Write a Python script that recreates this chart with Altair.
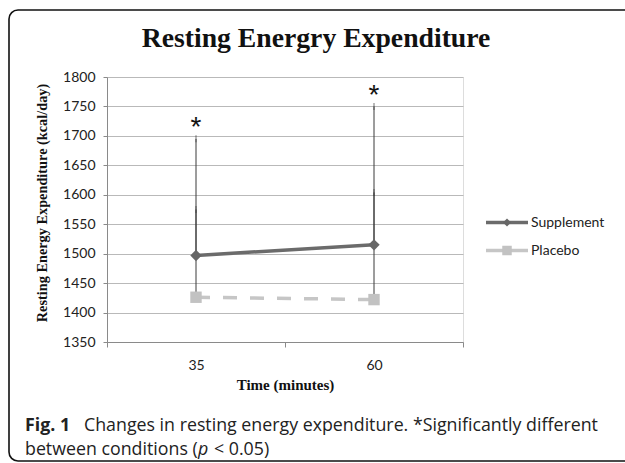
import altair as alt
import pandas as pd

# ---- data ----
times = ["35", "60"]
series = ["Supplement", "Placebo"]
supp_mean = [1497, 1515]
supp_upper = [1695, 1750]
plac_mean = [1426, 1422]
plac_upper = [1575, 1604]
star_y = [1700, 1754]          # '*' significance markers
y_ticks = [1350, 1400, 1450, 1500, 1550, 1600, 1650, 1700, 1750, 1800]

colors = {"Supplement": "#6b6b6b", "Placebo": "#c6c6c6"}
shapes = {"Supplement": "diamond", "Placebo": "square"}

idx = list(range(len(times)))
df = pd.DataFrame({
    "idx": idx * 2,
    "time": times * 2,
    "series": [series[0]] * len(times) + [series[1]] * len(times),
    "mean": supp_mean + plac_mean,
    "upper": supp_upper + plac_upper,
})
stars = pd.DataFrame({"idx": idx, "y": star_y, "t": ["*"] * len(idx)})

W, H = 356, 265
PL, PT = 107, 77

label_expr = " : ".join(f"datum.value == {i} ? '{t}'" for i, t in enumerate(times)) + " : ''"

xenc = alt.X(
    "idx:Q",
    scale=alt.Scale(domain=[-0.5, len(times) - 0.5], nice=False, zero=False),
    axis=alt.Axis(
        values=[-0.5, 0, 0.5, 1, 1.5],
        tickCount=10,
        labelExpr=label_expr,
        labelOverlap=False,
        labelFlush=False,
        grid=False,
        tickSize=5,
        tickColor="#8a8a8a",
        tickOpacity={"condition": {"test": "datum.value % 1 == 0", "value": 0}, "value": 1},
        domainColor="#8a8a8a",
        labelFont="Lato",
        labelFontSize=14,
        labelColor="#222222",
        labelPadding=11,
        title="Time (minutes)",
        titleFont="Liberation Serif",
        titleFontSize=15,
        titleFontWeight="bold",
        titleColor="#111111",
        titleBaseline="middle",
        titleY=42,
    ),
)
yscale = alt.Scale(domain=[1350, 1800], nice=False, zero=False)
yenc = alt.Y(
    "mean:Q",
    scale=yscale,
    axis=alt.Axis(
        values=y_ticks,
        tickCount=len(y_ticks) * 2,
        format="d",
        labelOverlap=False,
        grid=True,
        gridColor="#b9b9b9",
        gridWidth=1,
        tickSize=4,
        tickColor="#8a8a8a",
        domainColor="#8a8a8a",
        labelFont="Lato",
        labelFontSize=14,
        labelColor="#222222",
        labelPadding=8,
        title="Resting Energy Expenditure (kcal/day)",
        titleFont="Liberation Serif",
        titleFontSize=14.3,
        titleFontWeight="bold",
        titleColor="#111111",
        titleAngle=-90,
        titleAlign="center",
        titleBaseline="middle",
        titleX=42 - PL,
        titleY=H / 2 - 7,
    ),
)

base = alt.Chart(df)

err = base.mark_rule(color="#3a3a3a", strokeWidth=1).encode(
    x=xenc, y=yenc, y2="upper:Q")
caps = base.mark_tick(color="#3a3a3a", thickness=1, size=7, orient="vertical").encode(
    x="idx:Q", y=alt.Y("upper:Q", scale=yscale))

supp_line = base.transform_filter(alt.datum.series == "Supplement").mark_line(
    color=colors["Supplement"], strokeWidth=3.5).encode(x="idx:Q", y="mean:Q")
plac_line = base.transform_filter(alt.datum.series == "Placebo").mark_line(
    color=colors["Placebo"], strokeWidth=3.5, strokeDash=[14, 13]).encode(x="idx:Q", y="mean:Q")
supp_pts = base.transform_filter(alt.datum.series == "Supplement").mark_point(
    shape="diamond", filled=True, size=130, color="#666666", opacity=1).encode(x="idx:Q", y="mean:Q")
plac_pts = base.transform_filter(alt.datum.series == "Placebo").mark_point(
    shape="square", filled=True, size=130, color="#c2c2c2", opacity=1).encode(x="idx:Q", y="mean:Q")

star_txt = alt.Chart(stars).mark_text(
    font="Liberation Sans", fontSize=28, baseline="alphabetic", align="center", color="#111111"
).encode(x="idx:Q", y=alt.Y("y:Q", scale=yscale), text="t:N")

one = pd.DataFrame({"a": [0]})

# legend (manual, Excel style)
legend_layers = []
leg_y = {"Supplement": 222.5 - PT, "Placebo": 250.5 - PT}
leg_size = {"Supplement": 64, "Placebo": 90}
for s in series:
    legend_layers.append(alt.Chart(one).mark_rule(
        color=colors[s], strokeWidth=3.5).encode(
        x=alt.value(486 - PL), x2=alt.value(528 - PL), y=alt.value(leg_y[s])))
    legend_layers.append(alt.Chart(one).mark_point(
        shape=shapes[s], filled=True, size=leg_size[s], opacity=1,
        color="#666666" if s == "Supplement" else "#c2c2c2").encode(
        x=alt.value(507 - PL), y=alt.value(leg_y[s])))
    legend_layers.append(alt.Chart(one).mark_text(
        text=s, font="Lato", fontSize=14, align="left", baseline="middle", color="#222222").encode(
        x=alt.value(531 - PL), y=alt.value(leg_y[s])))

title = alt.Chart(one).mark_text(
    text="Resting Energry Expenditure", font="Liberation Serif", fontSize=27.7,
    fontWeight="bold", align="center", baseline="alphabetic", color="#111111").encode(
    x=alt.value(316 - PL), y=alt.value(47 - PT))

border = alt.Chart(one).mark_rect(
    fill=None, stroke="#111111", strokeWidth=1.6, cornerRadius=9, filled=False).encode(
    x=alt.value(9 - PL), y=alt.value(10 - PT), x2=alt.value(650 - PL), y2=alt.value(461 - PT))

cap_font = "Open Sans"
cap_size = 17.8
cap_col = "#222222"
y1, y2 = 431, 455
cap1a = alt.Chart(one).mark_text(
    text="Fig. 1", font=cap_font, fontSize=cap_size, fontWeight="bold", align="left",
    baseline="alphabetic", color=cap_col).encode(x=alt.value(25 - PL), y=alt.value(y1 - PT))
cap1b = alt.Chart(one).mark_text(
    text="Changes in resting energy expenditure. *Significantly different", font=cap_font,
    fontSize=cap_size, align="left", baseline="alphabetic", color=cap_col).encode(
    x=alt.value(84 - PL), y=alt.value(y1 - PT))
cap2a = alt.Chart(one).mark_text(
    text="between conditions (", font=cap_font, fontSize=cap_size, align="left",
    baseline="alphabetic", color=cap_col).encode(x=alt.value(25 - PL), y=alt.value(y2 - PT))
cap2b = alt.Chart(one).mark_text(
    text="p", font=cap_font, fontSize=cap_size, fontStyle="italic", align="left",
    baseline="alphabetic", color=cap_col).encode(x=alt.value(198 - PL), y=alt.value(y2 - PT))
cap2c = alt.Chart(one).mark_text(
    text="< 0.05)", font=cap_font, fontSize=cap_size, align="left",
    baseline="alphabetic", color=cap_col).encode(x=alt.value(214 - PL), y=alt.value(y2 - PT))

chart = alt.layer(
    border, err, caps, plac_line, supp_line, plac_pts, supp_pts, star_txt, title,
    *legend_layers, cap1a, cap1b, cap2a, cap2b, cap2c,
).properties(
    width=W, height=H,
    autosize=alt.AutoSizeParams(type="none"),
    padding={"left": PL, "top": PT, "right": 625 - PL - W, "bottom": 463 - PT - H},
).configure_view(stroke=None).configure(background="white")

chart.save("out.html", embed_options={"renderer": "svg", "actions": False})
